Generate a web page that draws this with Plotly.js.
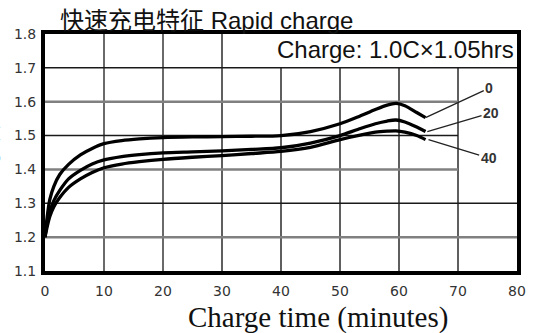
<!DOCTYPE html>
<html>
<head>
<meta charset="utf-8">
<script src="https://cdn.plot.ly/plotly-3.0.1.min.js"></script>
<style>html,body{margin:0;padding:0;background:#fff;}#chart{width:536px;height:333px;}</style>
</head>
<body>
<div id="chart"></div>
<script>
// Data
const minutes = [0, 0.3, 0.8, 1.5, 2.5, 4, 6, 8, 10, 13, 16, 20, 25, 30, 35, 40, 45, 50, 53, 56, 58, 59.5, 61, 63, 64.5];
const volt0  = [1.20, 1.25, 1.31, 1.35, 1.385, 1.415, 1.443, 1.462, 1.476, 1.485, 1.49, 1.494, 1.496, 1.497, 1.498, 1.50, 1.512, 1.535, 1.555, 1.577, 1.59, 1.595, 1.588, 1.568, 1.553];
const volt20 = [1.20, 1.235, 1.275, 1.308, 1.338, 1.372, 1.397, 1.416, 1.428, 1.438, 1.444, 1.449, 1.452, 1.455, 1.459, 1.464, 1.478, 1.50, 1.518, 1.535, 1.543, 1.546, 1.54, 1.525, 1.512];
const volt40 = [1.20, 1.225, 1.26, 1.29, 1.317, 1.347, 1.372, 1.391, 1.405, 1.416, 1.423, 1.43, 1.436, 1.441, 1.447, 1.453, 1.465, 1.488, 1.50, 1.51, 1.513, 1.514, 1.51, 1.50, 1.488];
const seriesNames = ["0", "20", "40"];
const xTicks = [0, 10, 20, 30, 40, 50, 60, 70, 80];
const yTicks = [1.1, 1.2, 1.3, 1.4, 1.5, 1.6, 1.7, 1.8];
const yTickText = ["1.1", "1.2", "1.3", "1.4", "1.5", "1.6", "1.7", "1.8"];

const seriesValues = [volt0, volt20, volt40];
const traces = seriesValues.map((v, i) => ({
  x: minutes, y: v, name: seriesNames[i], type: 'scatter', mode: 'lines',
  line: {color: '#000', width: 3.3, shape: 'spline', smoothing: 0.8},
  hoverinfo: 'skip'
}));

// grid drawn as shapes (the reference grid is irregular)
const shapes = [];
xTicks.slice(1, -1).forEach(t => {
  shapes.push({type: 'line', layer: 'below', xref: 'x', yref: 'y', x0: t, x1: t,
    y0: 1.1, y1: t >= 40 ? 1.7 : 1.8,
    line: {color: t <= 20 ? '#6a6a6a' : '#2a2a2a', width: t <= 20 ? 2 : 1.5}});
});
yTicks.slice(1, -1).forEach((v, i) => {
  const gray = (i % 2 === 0);
  const short = v > 1.35 && v < 1.65;
  shapes.push({type: 'line', layer: 'below', xref: 'x', yref: 'y', x0: 0, x1: short ? 70 : 80,
    y0: v, y1: v,
    line: {color: gray ? '#808080' : '#1a1a1a', width: gray ? 2.5 : 1.5}});
});

const last = minutes.length - 1;
const labelFont = {family: 'Liberation Sans Narrow, Liberation Sans, Arial', size: 14, color: '#333'};
const annotations = [
  {xref: 'x', yref: 'y', x: minutes[last], y: volt0[last], axref: 'x', ayref: 'y', ax: 75.3, ay: 1.64,
   text: '<b>' + seriesNames[0] + '</b>', showarrow: true, arrowhead: 0, arrowwidth: 1.3, arrowcolor: '#222', font: labelFont},
  {xref: 'x', yref: 'y', x: minutes[last] + 0.3, y: volt20[last], axref: 'x', ayref: 'y', ax: 75.6, ay: 1.567,
   text: '<b>' + seriesNames[1] + '</b>', showarrow: true, arrowhead: 0, arrowwidth: 1.3, arrowcolor: '#222', font: labelFont},
  {xref: 'x', yref: 'y', x: minutes[last] + 0.5, y: volt40[last], axref: 'x', ayref: 'y', ax: 75.2, ay: 1.434,
   text: '<b>' + seriesNames[2] + '</b>', showarrow: true, arrowhead: 0, arrowwidth: 1.3, arrowcolor: '#222', font: labelFont},
  {xref: 'paper', yref: 'paper', x: 0.997, y: 0.935, xanchor: 'right', yanchor: 'middle',
   text: 'Charge: 1.0C×1.05hrs', showarrow: false,
   font: {family: 'Liberation Sans, Arial', size: 24, color: '#111'}},
  {xref: 'paper', yref: 'paper', x: 0.578, y: -0.196, xanchor: 'center', yanchor: 'middle',
   text: 'Charge time (minutes)', showarrow: false,
   font: {family: 'Liberation Serif, Times New Roman, serif', size: 29, color: '#111'}},
  {xref: 'paper', yref: 'paper', x: -0.11, y: 0.477, xanchor: 'center', yanchor: 'middle',
   text: 'Voltage (V)', textangle: -90, showarrow: false,
   font: {family: 'Liberation Serif, serif', size: 15, color: '#222'}}
];

const layout = {
  width: 536, height: 333,
  margin: {l: 45, r: 19, t: 34, b: 62, pad: 0},
  paper_bgcolor: '#fff', plot_bgcolor: '#fff',
  showlegend: false,
  title: {
    text: '快速充电特征 Rapid charge',
    x: 60 / 536, xanchor: 'left', xref: 'container',
    y: 1 - 21 / 333, yanchor: 'middle', yref: 'container',
    font: {family: 'Liberation Sans, Noto Sans CJK SC, sans-serif', size: 24, color: '#111'}
  },
  xaxis: {
    range: [0, 80], tickvals: xTicks, ticktext: xTicks.map(String),
    showgrid: false, zeroline: false, showline: true, linecolor: '#000', linewidth: 4, mirror: true,
    ticks: '', ticklabelstandoff: 4,
    tickfont: {family: 'DejaVu Sans, sans-serif', size: 14, color: '#333'},
    fixedrange: true
  },
  yaxis: {
    range: [1.1, 1.8], tickvals: yTicks, ticktext: yTickText,
    showgrid: false, zeroline: false, showline: true, linecolor: '#000', linewidth: 4, mirror: true,
    ticks: '', ticklabelstandoff: 2,
    tickfont: {family: 'DejaVu Sans, sans-serif', size: 14, color: '#333'},
    fixedrange: true
  },
  shapes: shapes,
  annotations: annotations
};

Plotly.newPlot('chart', traces, layout, {displayModeBar: false, staticPlot: true});
</script>
</body>
</html>
